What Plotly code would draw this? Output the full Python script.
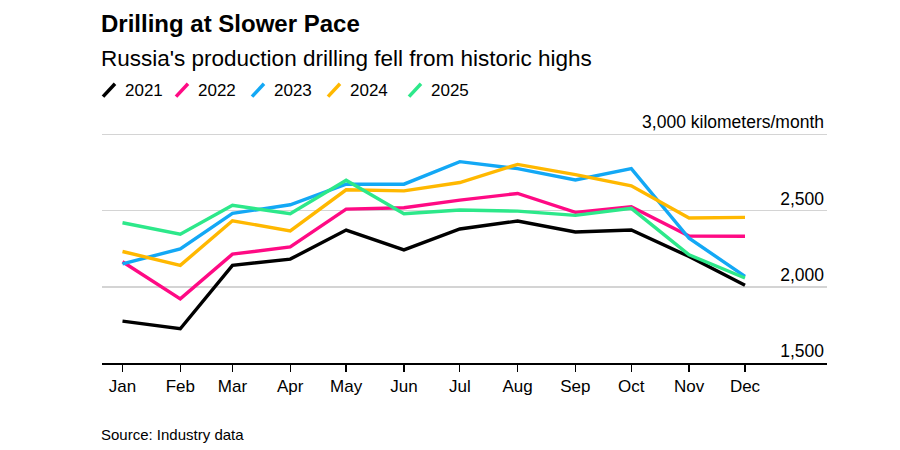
import plotly.graph_objects as go

months = ["Jan", "Feb", "Mar", "Apr", "May", "Jun", "Jul", "Aug", "Sep", "Oct", "Nov", "Dec"]
month_dates = ["2021-%02d-01" % (i + 1) for i in range(12)]

years = ["2021", "2022", "2023", "2024", "2025"]
colors = ["#000000", "#ff0a84", "#13a8f5", "#ffb800", "#2de88a"]

v2021 = [1775, 1725, 2141, 2182, 2373, 2243, 2380, 2432, 2360, 2373, 2199, 2010]
v2022 = [2165, 1921, 2215, 2262, 2510, 2519, 2569, 2613, 2489, 2526, 2334, 2332]
v2023 = [2151, 2249, 2482, 2539, 2674, 2674, 2822, 2776, 2702, 2776, 2319, 2069]
v2024 = [2232, 2141, 2434, 2367, 2637, 2630, 2685, 2804, 2737, 2663, 2452, 2456]
v2025 = [2421, 2345, 2535, 2480, 2700, 2480, 2504, 2497, 2469, 2515, 2210, 2058]
series = [v2021, v2022, v2023, v2024, v2025]

y_tickvals = [1500, 2000, 2500, 3000]
y_ticktext = ["1,500", "2,000", "2,500", "3,000 kilometers/month"]

W, H = 900, 450
L, R, T, B = 102, 73, 132.5, 86.5
pw, ph = W - L - R, H - T - B


def px(x):
    return (x - L) / pw


def py(y):
    return (H - B - y) / ph


fig = go.Figure()
for name, vals, col in zip(years, series, colors):
    fig.add_trace(go.Scatter(x=month_dates, y=vals, mode="lines", name=name,
                             line=dict(color=col, width=3.4), showlegend=False))

font = "Liberation Sans, Arial, Helvetica, sans-serif"
narrow = "Liberation Sans Narrow, Arial Narrow, Liberation Sans, sans-serif"

annotations = [
    dict(text="<b>Drilling at Slower Pace</b>", x=px(99), y=py(23), xref="paper", yref="paper",
         xanchor="left", yanchor="middle", showarrow=False, font=dict(family=font, size=24, color="#000")),
    dict(text="Russia's production drilling fell from historic highs", x=px(99), y=py(58), xref="paper",
         yref="paper", xanchor="left", yanchor="middle", showarrow=False,
         font=dict(family=font, size=22.5, color="#000")),
    dict(text="Source: Industry data", x=px(99), y=py(435), xref="paper", yref="paper",
         xanchor="left", yanchor="middle", showarrow=False, font=dict(family=narrow, size=15, color="#000")),
]
shapes = []
legend_icon_x = [102, 175, 251, 327, 408]
for name, col, lx in zip(years, colors, legend_icon_x):
    shapes.append(dict(type="line", xref="paper", yref="paper", x0=px(lx + 1), y0=py(96), x1=px(lx + 13),
                       y1=py(83), line=dict(color=col, width=3.5)))
    annotations.append(dict(text=name, x=px(lx + 21), y=py(89.5), xref="paper", yref="paper",
                            xanchor="left", yanchor="middle", showarrow=False,
                            font=dict(family=font, size=17, color="#000")))

fig.update_layout(
    width=W, height=H,
    margin=dict(l=L, r=R, t=T, b=B, autoexpand=False),
    paper_bgcolor="white", plot_bgcolor="white",
    annotations=annotations, shapes=shapes,
    xaxis=dict(type="date", range=["2020-12-21", "2022-01-14"], tickvals=month_dates, ticktext=months,
               showgrid=False, showline=True, linecolor="#000", linewidth=1.5, ticks="outside",
               ticklen=7, tickcolor="#000", tickwidth=1.3, tickfont=dict(family=narrow, size=17, color="#000"),
               zeroline=False, fixedrange=True, automargin=False),
    yaxis=dict(range=[1500, 3010], side="right", tickvals=y_tickvals, ticktext=y_ticktext,
               ticklabelposition="inside top", ticklabeloverflow="allow", showgrid=True,
               gridcolor="#d4d4d4", gridwidth=1.5,
               showline=False, zeroline=False, ticks="", tickfont=dict(family=font, size=17.5, color="#000"),
               fixedrange=True, automargin=False),
)

fig.write_html("out.html", config={"displayModeBar": False, "staticPlot": True},
               post_script="document.body.style.margin='0';")
